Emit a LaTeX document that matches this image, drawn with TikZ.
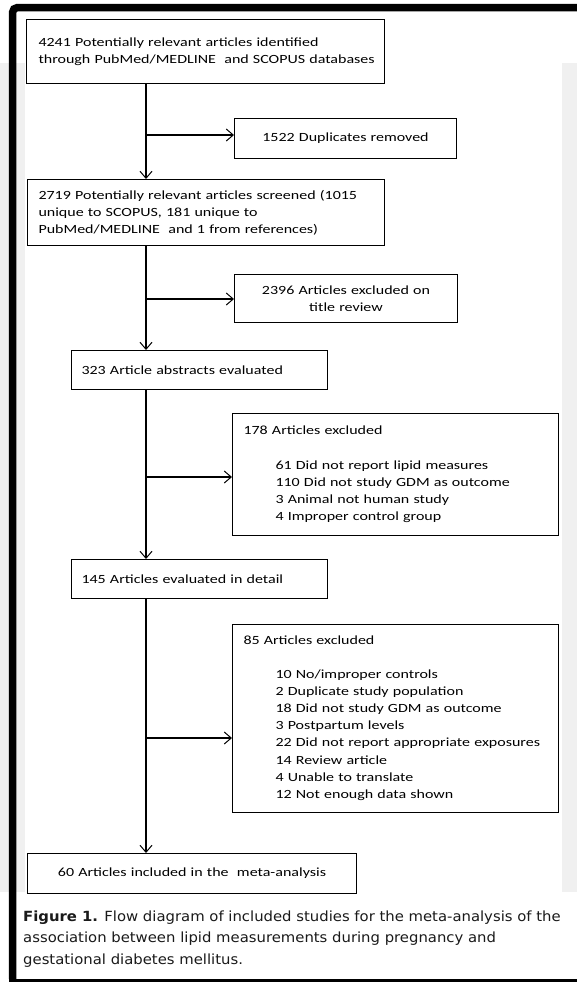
\documentclass[tikz,border=0pt]{standalone}
\usepackage{fontspec}
\setmainfont{Carlito}[FakeStretch=1.28]
\newfontfamily\capfont{DejaVu Sans}[FakeStretch=1.06]
\usetikzlibrary{arrows.meta,calc}
\definecolor{pagegrey}{HTML}{F0F0F0}
\definecolor{captext}{HTML}{1A1A1A}
\begin{document}
\begin{tikzpicture}[x=1pt,y=-1pt,
  box/.style={draw, line width=1pt, anchor=north west, inner ysep=0pt,
    font=\fontsize{12.5}{17.2}\selectfont},
  lbox/.style={box, align=left},
  cbox/.style={box, align=center},
  arr/.style={line width=1.1pt, -{Straight Barb[length=7pt,width=12pt,line width=1pt]}},
]
\useasboundingbox (0,0) rectangle (577,983);
% page background
\fill[white] (0,0) rectangle (577,983);
\fill[pagegrey] (0,63) rectangle (577,892);
\fill[white] (25,0) rectangle (562,892);
% frame
\draw[line width=7.5pt, rounded corners=5pt] (585,7.5) -- (12.5,7.5) -- (12.5,979);
\draw[line width=3pt] (9,980.5) -- (585,980.5);

% boxes
\node[lbox, text width=334pt, inner xsep=12pt, minimum height=64pt] (b1) at (26,19)
  {\mbox{4241 Potentially relevant articles identified}\\
   \mbox{through PubMed/MEDLINE\ \ and SCOPUS databases}};
\node[cbox, text width=200pt, inner xsep=11pt, minimum height=40pt] (dup) at (234,118)
  {1522 Duplicates removed};
\node[lbox, text width=335pt, inner xsep=11pt, minimum height=66pt] (b2) at (27,179)
  {\mbox{2719 Potentially relevant articles screened (1015}\\
   \mbox{unique to SCOPUS, 181 unique to}\\
   \mbox{PubMed/MEDLINE\ \ and 1 from references)}};
\node[cbox, text width=201pt, inner xsep=11pt, minimum height=48pt] (ex1) at (234,274)
  {2396 Articles excluded on\\title review};
\node[lbox, text width=236pt, inner xsep=10pt, minimum height=39pt] (b3) at (71,350)
  {\mbox{323 Article abstracts evaluated}};
\node[lbox, text width=304pt, inner xsep=11pt, minimum height=122pt] (ex2) at (232,413)
  {\mbox{178 Articles excluded}\\[17.2pt]
   \mbox{\hspace*{32pt}61 Did not report lipid measures}\\
   \mbox{\hspace*{32pt}110 Did not study GDM as outcome}\\
   \mbox{\hspace*{32pt}3 Animal not human study}\\
   \mbox{\hspace*{32pt}4 Improper control group}};
\node[lbox, text width=236pt, inner xsep=10pt, minimum height=39pt] (b4) at (71,559)
  {\mbox{145 Articles evaluated in detail}};
\node[lbox, text width=304pt, inner xsep=11pt, minimum height=188pt] (ex3) at (232,624)
  {\mbox{85 Articles excluded}\\[16pt]
   \mbox{\hspace*{32pt}10 No/improper controls}\\
   \mbox{\hspace*{32pt}2 Duplicate study population}\\
   \mbox{\hspace*{32pt}18 Did not study GDM as outcome}\\
   \mbox{\hspace*{32pt}3 Postpartum levels}\\
   \mbox{\hspace*{32pt}22 Did not report appropriate exposures}\\
   \mbox{\hspace*{32pt}14 Review article}\\
   \mbox{\hspace*{32pt}4 Unable to translate}\\
   \mbox{\hspace*{32pt}12 Not enough data shown}};
\node[cbox, text width=307pt, inner xsep=11pt, minimum height=40pt] (b5) at (27,853)
  {60 Articles included in the\ \ meta-analysis};

% junction points on the main line
\coordinate (m1) at (146,135);
\coordinate (m2) at (146,299);
\coordinate (m3) at (146,477);
\coordinate (m4) at (146,738);

\draw[arr] (b1.south -| m1) -- (b2.north -| m1);
\draw[arr] (m1) -- (m1 -| dup.west);
\draw[arr] (b2.south -| m2) -- (b3.north -| m2);
\draw[arr] (m2) -- (m2 -| ex1.west);
\draw[arr] (b3.south -| m3) -- (b4.north -| m3);
\draw[arr] (m3) -- (m3 -| ex2.west);
\draw[arr] (b4.south -| m4) -- (b5.north -| m4);
\draw[arr] (m4) -- (m4 -| ex3.west);

% caption
\node[anchor=west, align=left, inner sep=0pt, text=captext,
  font=\capfont\fontsize{14}{21.5}\selectfont] (cap) at (23,939)
  {\textbf{Figure 1.} Flow diagram of included studies for the meta-analysis of the\\
   association between lipid measurements during pregnancy and\\
   gestational diabetes mellitus.};
\end{tikzpicture}
\end{document}
